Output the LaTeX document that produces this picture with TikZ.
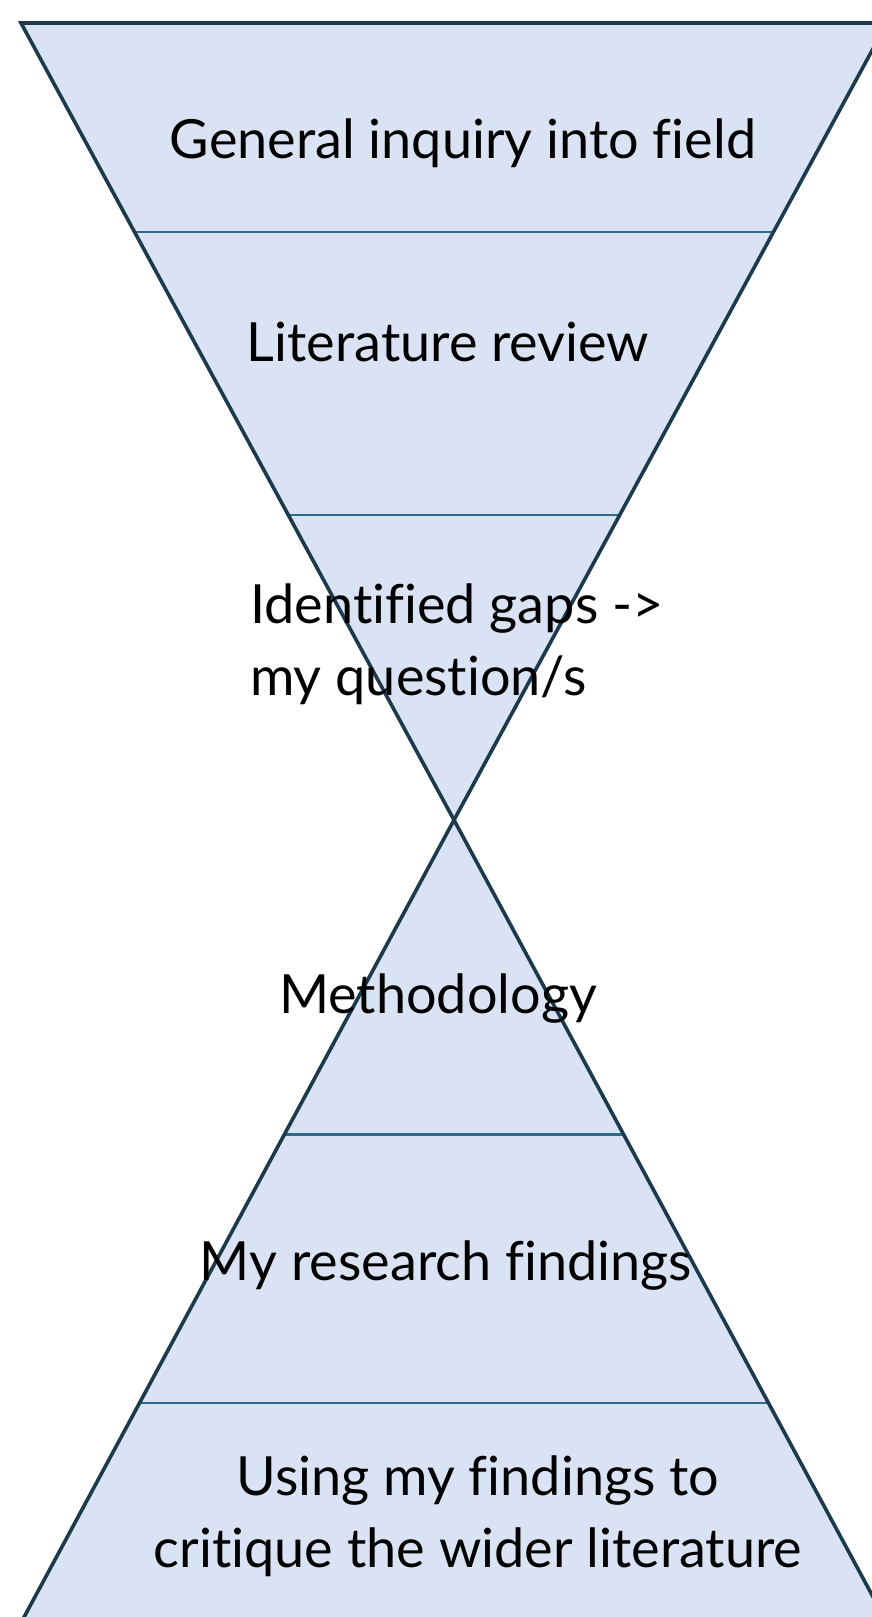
\documentclass[tikz,border=0pt]{standalone}
\usepackage{fontspec}
\setmainfont{Lato}[Ligatures={NoCommon}]
\usetikzlibrary{calc}
\definecolor{fillc}{HTML}{DAE3F3}
\definecolor{edgec}{HTML}{1C3A4C}
\definecolor{sepc}{HTML}{2E6A8A}
\begin{document}
\begin{tikzpicture}[x=1pt,y=-1pt,
  edge/.style={draw=edgec,line width=3.6pt,line join=miter},
  sep/.style={draw=sepc,line width=2.4pt},
  lbl/.style={inner sep=0pt,font=\fontsize{54}{72}\selectfont,text=black}]
\useasboundingbox (0,0) rectangle (872,1617);
\clip (0,0) rectangle (872,1617);
\coordinate (TL) at (21,23);
\coordinate (TR) at (887,23);
\coordinate (X) at (454,820);
\coordinate (BL) at (23,1619);
\coordinate (BR) at (885,1619);
\fill[fillc] (TL) -- (TR) -- (X) -- cycle;
\fill[fillc] (X) -- (BL) -- (BR) -- cycle;
\draw[sep] ($(TL)!0.2622!(X)$) -- ($(TR)!0.2622!(X)$);
\draw[sep] ($(TL)!0.6173!(X)$) -- ($(TR)!0.6173!(X)$);
\draw[sep] ($(X)!0.3935!(BL)$) -- ($(X)!0.3935!(BR)$);
\draw[sep] ($(X)!0.7293!(BL)$) -- ($(X)!0.7293!(BR)$);
\draw[edge] (TL) -- (TR) -- (X) -- cycle;
\draw[edge] (X) -- (BL) -- (BR) -- cycle;
\node[lbl,anchor=base] (t1) at (463,158) {General inquiry into field};
\node[lbl,anchor=base] (t2) at (448,361) {Literature review};
\node[lbl,anchor=base west,align=left] (t3) at (250,695) {Identified gaps ->\\my question/s};
\node[lbl,anchor=base] (t4) at (438,1013) {Methodology};
\node[lbl,anchor=base] (t5) at (446,1280) {My research findings};
\node[lbl,anchor=base,align=center] (t6) at (478,1567) {Using my findings to\\critique the wider literature};
\end{tikzpicture}
\end{document}
